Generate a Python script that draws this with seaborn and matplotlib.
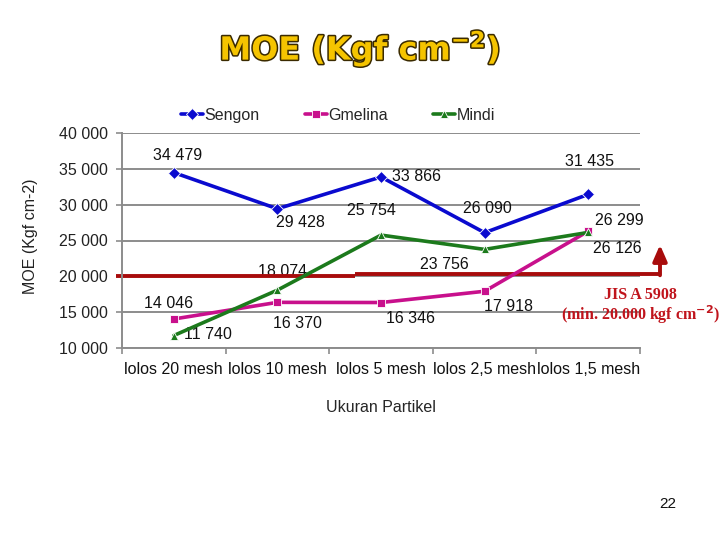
import numpy as np
import pandas as pd
import matplotlib
matplotlib.use("Agg")
import matplotlib.pyplot as plt
import matplotlib.patheffects as pe
import seaborn as sns

# ---- data ----
categories = ["lolos 20 mesh", "lolos 10 mesh", "lolos 5 mesh", "lolos 2,5 mesh", "lolos 1,5 mesh"]
sengon = [34479, 29428, 33866, 26090, 31435]
gmelina = [14046, 16370, 16346, 17918, 26299]
mindi = [11740, 18074, 25754, 23756, 26126]
series_names = ["Sengon", "Gmelina", "Mindi"]
y_ticks = [10000, 15000, 20000, 25000, 30000, 35000, 40000]
standard_value = 20000

# ---- layout (label offsets in pixels) ----
label_offsets = {
    "Sengon": [(4, 17), (23, -14), (35, 0), (3, 24), (1, 33)],
    "Gmelina": [(-5, 16), (20, -21), (29, -16), (24, -15), (31, 11)],
    "Mindi": [(34, 1), (5, 19), (-10, 25), (-40, -15), (29, -16)],
}
colors = {"Sengon": "#0A0ACF", "Gmelina": "#C8108C", "Mindi": "#1C7A1C"}
markers = {"Sengon": "D", "Gmelina": "s", "Mindi": "^"}

sns.set_theme(style="white")
plt.rcParams["font.family"] = ["Liberation Sans", "DejaVu Sans"]

values = {"Sengon": sengon, "Gmelina": gmelina, "Mindi": mindi}
rows = []
for name in series_names:
    for cat, v in zip(categories, values[name]):
        rows.append({"cat": cat, "val": v, "series": name})
df = pd.DataFrame(rows)

fig = plt.figure(figsize=(7.2, 5.4), dpi=100)
ax = fig.add_axes([122 / 720, 1 - 348 / 540, (640 - 122) / 720, (348 - 133) / 540])

sns.lineplot(data=df, x="cat", y="val", hue="series", style="series",
             palette=colors, markers=markers, dashes=False, linewidth=2.6,
             markersize=6, markeredgewidth=0.6, ax=ax, sort=False, legend=True, zorder=3)

ax.set_xlim(-0.5, len(categories) - 0.5)
ax.set_ylim(10000, 40000)
ax.set_yticks(y_ticks)
ax.set_yticklabels([f"{v:,}".replace(",", " ") for v in y_ticks], fontsize=11.5, color="#222222")
ax.yaxis.grid(True, color="#8c8c8c", linewidth=1.4)
ax.xaxis.grid(False)
ax.set_axisbelow(True)

ax.set_xticks(range(len(categories)))
ax.set_xticklabels(categories, fontsize=11.5, color="#111111")
ax.set_xticks(np.arange(-0.5, len(categories), 1.0), minor=True)
ax.tick_params(axis="x", which="major", length=0, pad=10)
ax.tick_params(axis="x", which="minor", length=4, width=1.2, color="#8c8c8c", direction="out", bottom=True)
ax.tick_params(axis="y", which="major", length=4, width=1.2, color="#8c8c8c", direction="out", left=True, pad=6)

for s in ["top", "right"]:
    ax.spines[s].set_visible(False)
for s in ["left", "bottom"]:
    ax.spines[s].set_color("#8c8c8c")
    ax.spines[s].set_linewidth(1.4)

ax.set_xlabel("Ukuran Partikel", fontsize=11.5, labelpad=17)
ax.set_ylabel("")
fig.text(30 / 720, 1 - 236 / 540, "MOE (Kgf cm-2)", rotation=90, ha="center", va="center",
         fontsize=11.5, color="#222222")

# data labels
for name in series_names:
    for i, v in enumerate(values[name]):
        dx, dy = label_offsets[name][i]
        ax.annotate(f"{v:,}".replace(",", " "), xy=(i, v), xytext=(dx, dy),
                    textcoords="offset pixels", ha="center", va="center",
                    fontsize=11.5, color="#111111", zorder=1)

# legend
handles, labels = ax.get_legend_handles_labels()
leg = ax.legend(handles, labels, loc="center", bbox_to_anchor=(338 / 720, 1 - 115 / 540),
                bbox_transform=fig.transFigure, ncol=3, frameon=False, fontsize=11.5,
                handlelength=1.4, handletextpad=0.1, columnspacing=2.8)

# standard line (JIS A 5908)
red = "#A80C0C"
x_left = (116 - 122) / 103.6 - 0.5
x_step = (355 - 122) / 103.6 - 0.5
x_right = (660 - 122) / 103.6 - 0.5
ax.plot([x_left, x_step], [standard_value, standard_value], color=red, lw=2.8,
        clip_on=False, zorder=2, solid_capstyle="butt")
ax.plot([x_step, x_right], [standard_value + 300, standard_value + 300], color=red, lw=2.8,
        clip_on=False, zorder=2, solid_capstyle="butt")
ax.annotate("", xy=(x_right, 24400), xytext=(x_right, standard_value + 150),
            arrowprops=dict(arrowstyle="-|>,head_width=0.35,head_length=0.8", color=red, lw=2.8,
                            shrinkA=0, shrinkB=0), annotation_clip=False, zorder=2)

fig.text(640 / 720, 1 - 295 / 540, "JIS A 5908", ha="center", va="center",
         fontsize=11.5, fontweight="bold", color="#C0141C", family="Liberation Serif")
fig.text(641 / 720, 1 - 315 / 540, "(min. 20.000 kgf cm$^{\\mathbf{-2}}$)", ha="center", va="center",
         fontsize=11.5, fontweight="bold", color="#C0141C", family="Liberation Serif")

# title
t = fig.text(360 / 720, 1 - 49 / 540, "MOE (Kgf cm$^{\\mathbf{-2}}$)", ha="center", va="center",
             fontsize=23, fontweight="heavy", color="#F5C400", family="DejaVu Sans")
t.set_path_effects([pe.withStroke(linewidth=2.2, foreground="#3a2a00")])

fig.text(668 / 720, 1 - 504 / 540, "22", ha="center", va="center", fontsize=11, color="#111111")

fig.savefig("out.png", dpi=100)
